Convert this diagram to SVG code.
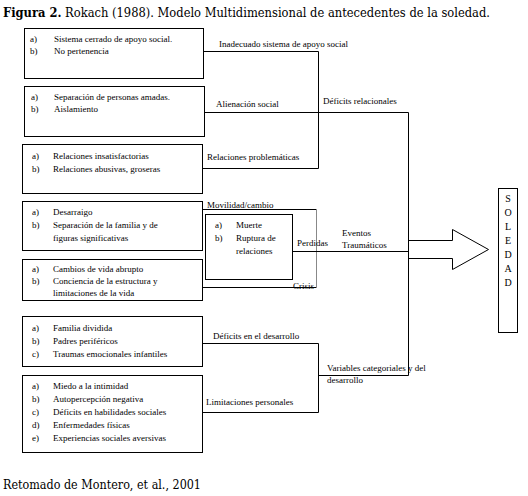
<svg xmlns="http://www.w3.org/2000/svg" width="528" height="496" viewBox="0 0 528 496">
<style>
.t{font-family:"Liberation Serif","Times New Roman",serif;font-size:9px;fill:#000}
.s{font-family:"Liberation Serif","Times New Roman",serif;font-size:10px;fill:#000}
.h{font-family:"DejaVu Serif",serif;font-size:12px;fill:#000}
.b{fill:#fff;stroke:#000;stroke-width:1}
.c{fill:none;stroke:#000;stroke-width:1}
</style>
<rect width="528" height="496" fill="#fff"/>
<text class="h" x="3" y="17" textLength="487" lengthAdjust="spacingAndGlyphs"><tspan font-weight="bold">Figura 2.</tspan> Rokach (1988). Modelo Multidimensional de antecedentes de la soledad.</text>

<g id="n1">
<rect class="b" x="24.5" y="28.5" width="179" height="50"/>
<text class="t" x="30" y="42">a)</text><text class="t" x="54" y="42">Sistema cerrado de apoyo social.</text>
<text class="t" x="30" y="54">b)</text><text class="t" x="54" y="54">No pertenencia</text>
</g>
<g id="n2">
<rect class="b" x="24.5" y="86.5" width="180" height="50"/>
<text class="t" x="31" y="100">a)</text><text class="t" x="54" y="100">Separación de personas amadas.</text>
<text class="t" x="31" y="112">b)</text><text class="t" x="54" y="112">Aislamiento</text>
</g>
<g id="n3">
<rect class="b" x="22.5" y="144.5" width="180" height="49"/>
<text class="t" x="32" y="159">a)</text><text class="t" x="53" y="159">Relaciones insatisfactorias</text>
<text class="t" x="32" y="172">b)</text><text class="t" x="53" y="172">Relaciones abusivas, groseras</text>
</g>
<g id="n4">
<rect class="b" x="22.5" y="201.5" width="180" height="49"/>
<text class="t" x="32" y="215">a)</text><text class="t" x="53" y="215">Desarraigo</text>
<text class="t" x="32" y="228">b)</text><text class="t" x="53" y="228">Separación de la familia y de</text>
<text class="t" x="53" y="241">figuras significativas</text>
</g>
<g id="n5">
<rect class="b" x="22.5" y="259.5" width="180" height="41"/>
<text class="t" x="32" y="272">a)</text><text class="t" x="53" y="272">Cambios de vida abrupto</text>
<text class="t" x="32" y="284">b)</text><text class="t" x="53" y="284">Conciencia de la estructura y</text>
<text class="t" x="53" y="296">limitaciones de la vida</text>
</g>
<g id="n6">
<rect class="b" x="22.5" y="316.5" width="180" height="50"/>
<text class="t" x="32" y="331">a)</text><text class="t" x="53" y="331">Familia dividida</text>
<text class="t" x="32" y="344">b)</text><text class="t" x="53" y="344">Padres periféricos</text>
<text class="t" x="32" y="357">c)</text><text class="t" x="53" y="357">Traumas emocionales infantiles</text>
</g>
<g id="n7">
<rect class="b" x="22.5" y="375.5" width="180" height="77"/>
<text class="t" x="32" y="389">a)</text><text class="t" x="53" y="389">Miedo a la intimidad</text>
<text class="t" x="32" y="402">b)</text><text class="t" x="53" y="402">Autopercepción negativa</text>
<text class="t" x="32" y="415">c)</text><text class="t" x="53" y="415">Déficits en habilidades sociales</text>
<text class="t" x="32" y="428">d)</text><text class="t" x="53" y="428">Enfermedades físicas</text>
<text class="t" x="32" y="441">e)</text><text class="t" x="53" y="441">Experiencias sociales aversivas</text>
</g>
<g id="n8">
<rect class="b" x="205.5" y="214.5" width="87" height="65"/>
<text class="t" x="215" y="228">a)</text><text class="t" x="236" y="228">Muerte</text>
<text class="t" x="215" y="241">b)</text><text class="t" x="236" y="241">Ruptura de</text>
<text class="t" x="236" y="254">relaciones</text>
</g>
<g id="soledad">
<rect class="b" x="498.5" y="188.5" width="19" height="144"/>
<text class="s" text-anchor="middle" x="508" y="202">S</text>
<text class="s" text-anchor="middle" x="508" y="216">O</text>
<text class="s" text-anchor="middle" x="508" y="230">L</text>
<text class="s" text-anchor="middle" x="508" y="244">E</text>
<text class="s" text-anchor="middle" x="508" y="258">D</text>
<text class="s" text-anchor="middle" x="508" y="272">A</text>
<text class="s" text-anchor="middle" x="508" y="286">D</text>
</g>
<g id="connectors">
<polyline class="c" points="203,51.5 318.5,51.5 318.5,168.5 202,168.5"/>
<polyline class="c" points="204,112.5 408.5,112.5 408.5,375.5 318,375.5"/>
<polyline class="c" points="202,343.5 318.5,343.5 318.5,412.5 202,412.5"/>
<path class="c" d="M202.5,209.5 H316.5 M202.5,287.5 H316.5"/>
<line x1="316.5" y1="209" x2="316.5" y2="288" stroke="#888" stroke-width="1"/>
<line class="c" x1="292" y1="251.5" x2="408" y2="251.5"/>
<polygon class="c" points="408.5,240.5 452.5,240.5 452.5,229.5 488.5,249.5 452.5,269.5 452.5,258.5 408.5,258.5"/>
</g>
<g id="labels">
<text class="t" x="219" y="47">Inadecuado sistema de apoyo social</text>
<text class="t" x="216" y="107">Alienación social</text>
<text class="t" x="323" y="104">Déficits relacionales</text>
<text class="t" x="207" y="160">Relaciones problemáticas</text>
<text class="t" x="207" y="208">Movilidad/cambio</text>
<text class="t" x="297" y="246">Perdidas</text>
<text class="t" x="342" y="236">Eventos</text>
<text class="t" x="342" y="248">Traumáticos</text>
<text class="t" x="293" y="289">Crisis</text>
<text class="t" x="213" y="339">Déficits en el desarrollo</text>
<text class="t" x="206" y="405">Limitaciones personales</text>
<text class="t" x="327" y="371">Variables categoriales y del</text>
<text class="t" x="327" y="383">desarrollo</text>
</g>
<text class="h" x="3" y="489" textLength="198" lengthAdjust="spacingAndGlyphs">Retomado de Montero, et al., 2001</text>
</svg>
